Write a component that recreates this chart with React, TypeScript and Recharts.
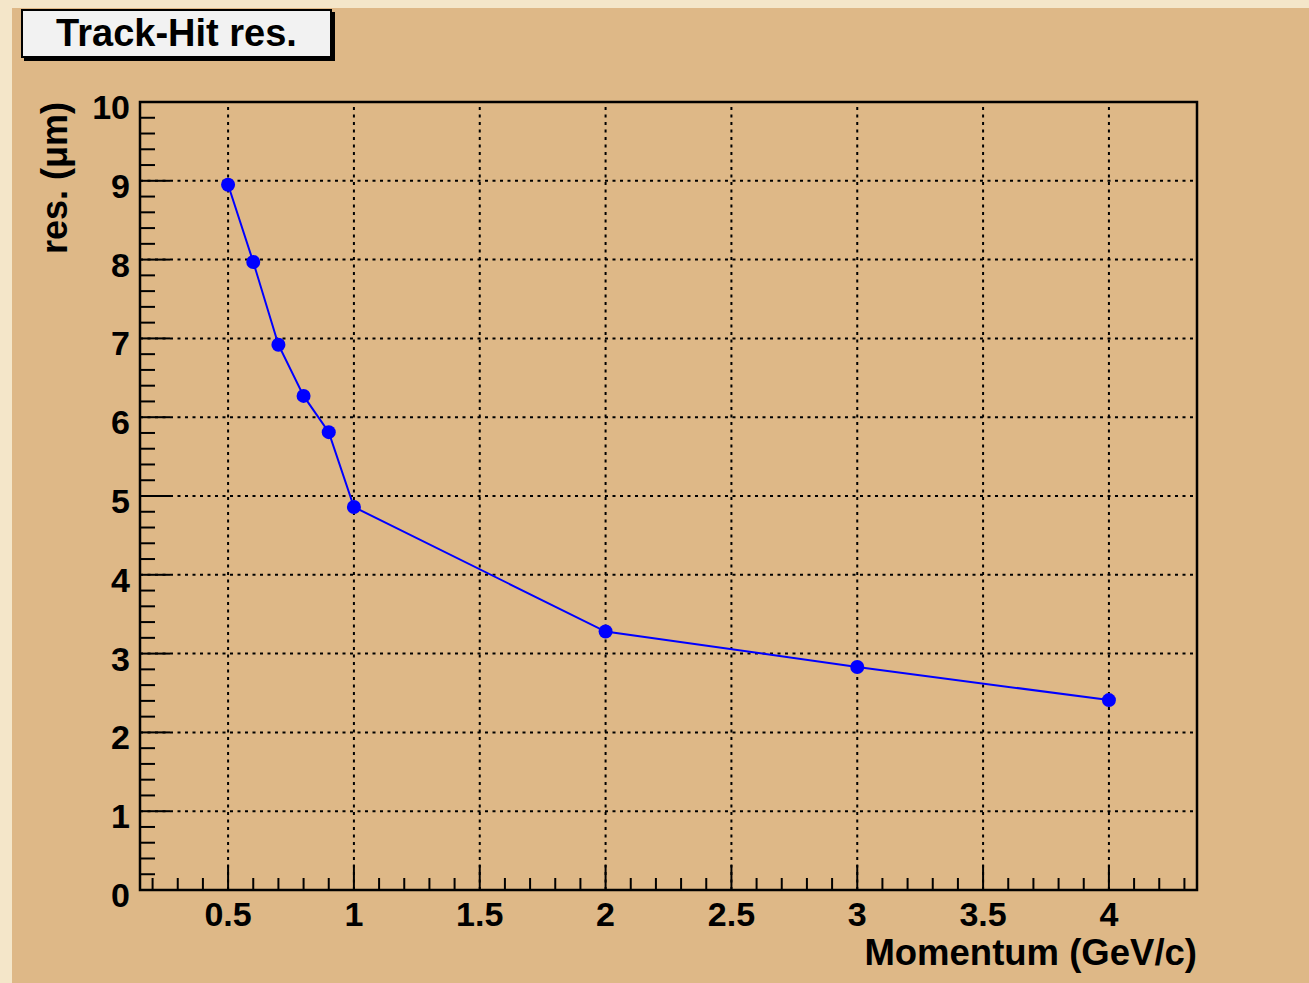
import { LineChart, Line, XAxis, YAxis, ReferenceLine, ReferenceArea } from "recharts"

const FONT = "'Liberation Sans', Arial, Helvetica, sans-serif"

// measured resolution vs. track momentum
const momentum = [0.5, 0.6, 0.7, 0.8, 0.9, 1, 2, 3, 4]
const resolution = [8.95, 7.97, 6.92, 6.27, 5.81, 4.86, 3.28, 2.83, 2.41]

const xDomain = [0.15, 4.35]
const yDomain = [0, 10]
const xGrid = [0.5, 1, 1.5, 2, 2.5, 3, 3.5, 4]
const yGrid = [1, 2, 3, 4, 5, 6, 7, 8, 9]

// minor ticks every 0.1 on x, every 0.2 on y
const xTicks = Array.from({ length: 42 }, (_, k) => (k + 2) / 10)
const yTicks = Array.from({ length: 51 }, (_, k) => k / 5)

const data = momentum.map((p, i) => ({ p, res: resolution[i] }))

const isMajor = (v: number, step: number) => Math.abs(v / step - Math.round(v / step)) < 1e-6

const XTick = ({ x, y, payload }: any) => {
  const v = payload.value
  if (!isMajor(v, 0.5)) return <line x1={x} x2={x} y1={y} y2={y - 12} stroke="#000" strokeWidth={2} />
  return (
    <g>
      <line x1={x} x2={x} y1={y} y2={y - 25} stroke="#000" strokeWidth={2} />
      <text x={x} y={y + 36} textAnchor="middle" fontFamily={FONT} fontWeight="bold" fontSize={34} fill="#000">
        {String(v)}
      </text>
    </g>
  )
}

const YTick = ({ x, y, payload }: any) => {
  const v = payload.value
  if (!isMajor(v, 1)) return <line x1={x} x2={x + 15} y1={y} y2={y} stroke="#000" strokeWidth={2} />
  return (
    <g>
      <line x1={x} x2={x + 30} y1={y} y2={y} stroke="#000" strokeWidth={2} />
      <text x={x - 10} y={y + 17} textAnchor="end" fontFamily={FONT} fontWeight="bold" fontSize={34} fill="#000">
        {String(Math.round(v))}
      </text>
    </g>
  )
}

const XTitle = ({ viewBox }: any) => (
  <text x={viewBox.x + viewBox.width} y={viewBox.y + 75} textAnchor="end" fontFamily={FONT} fontWeight="bold" fontSize={36.5} fill="#000">
    Momentum (GeV/c)
  </text>
)

const YTitle = ({ viewBox }: any) => {
  const x = viewBox.x + viewBox.width - 73
  const y = viewBox.y
  return (
    <text x={x} y={y} transform={`rotate(-90 ${x} ${y})`} textAnchor="end" fontFamily={FONT} fontWeight="bold" fontSize={36} fill="#000">
      res. (μm)
    </text>
  )
}

export default function App() {
  return (
    <div style={{ position: "absolute", left: 0, top: 0, width: 1309, height: 983, background: "#f4e6c9", overflow: "hidden" }}>
      <div style={{ position: "absolute", left: 12, top: 8, right: 0, bottom: 0, background: "#deb887" }} />

      <div style={{ position: "absolute", left: 0, top: 0 }}>
        <LineChart width={1309} height={983} data={data} margin={{ top: 102, right: 112, bottom: 33, left: 40 }}>
          <XAxis
            dataKey="p"
            type="number"
            domain={xDomain}
            allowDataOverflow
            ticks={xTicks}
            interval={0}
            height={60}
            tickSize={0}
            tickMargin={0}
            tickLine={false}
            axisLine={false}
            tick={<XTick />}
            label={<XTitle />}
          />
          <YAxis
            type="number"
            domain={yDomain}
            allowDataOverflow
            ticks={yTicks}
            interval={0}
            width={100}
            tickSize={0}
            tickMargin={0}
            tickLine={false}
            axisLine={false}
            tick={<YTick />}
            label={<YTitle />}
          />
          {xGrid.map((v) => (
            <ReferenceLine key={`gx${v}`} x={v} stroke="#000" strokeWidth={2} strokeDasharray="3 4.5" />
          ))}
          {yGrid.map((v) => (
            <ReferenceLine key={`gy${v}`} y={v} stroke="#000" strokeWidth={2} strokeDasharray="3 4.5" />
          ))}
          <ReferenceArea x1={xDomain[0]} x2={xDomain[1]} y1={yDomain[0]} y2={yDomain[1]} fill="none" stroke="#000" strokeWidth={2.5} />
          <Line
            dataKey="res"
            type="linear"
            stroke="#0000ff"
            strokeWidth={2}
            dot={{ r: 7, fill: "#0000ff", stroke: "none" }}
            activeDot={false}
            isAnimationActive={false}
          />
        </LineChart>
      </div>

      <div
        style={{
          position: "absolute",
          left: 21,
          top: 9,
          width: 307,
          height: 45,
          background: "#f2f2f2",
          border: "2px solid #000",
          boxShadow: "3px 3px 0 #000",
          fontFamily: FONT,
          fontWeight: "bold",
          fontSize: 38,
          lineHeight: "45px",
          textAlign: "center",
          color: "#000",
        }}
      >
        Track-Hit res.
      </div>
    </div>
  )
}
